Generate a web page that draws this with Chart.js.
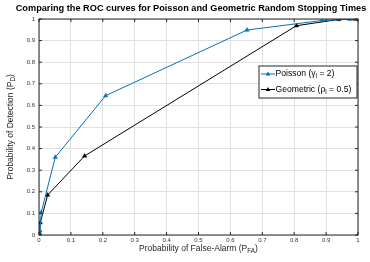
<!DOCTYPE html>
<html>
<head>
<meta charset="utf-8">
<script src="https://cdn.jsdelivr.net/npm/chart.js@4"></script>
<style>
  html, body { margin: 0; padding: 0; background: #fff; }
  #wrap { width: 370px; height: 262px; }
</style>
</head>
<body>
<div id="wrap"><canvas id="roc" width="370" height="262"></canvas></div>
<script>
// values
const poissonPfa = [0, 0.003, 0.007, 0.051, 0.209, 0.652, 0.887, 0.974, 1];
const poissonPd  = [0, 0.02, 0.105, 0.36, 0.645, 0.949, 0.993, 0.999, 1];
const geomPfa    = [0, 0.001, 0.004, 0.027, 0.143, 0.807, 0.94, 0.99, 1];
const geomPd     = [0, 0.01, 0.057, 0.185, 0.366, 0.969, 0.998, 1, 1];
const tickValues = [0, 0.1, 0.2, 0.3, 0.4, 0.5, 0.6, 0.7, 0.8, 0.9, 1];

const FONT = "'Liberation Sans', Arial, Helvetica, sans-serif";
const BLUE = '#0072BD';
const BLACK = '#000000';

function toPoints(xs, ys) {
    return xs.map((x, i) => ({ x: x, y: ys[i] }));
}

// draw text pieces with subscripts, returns total width
function drawRich(ctx, parts, x, y, size) {
    let cx = x;
    parts.forEach(p => {
        const s = p.sub ? size * 0.75 : size;
        ctx.font = s + 'px ' + FONT;
        ctx.fillText(p.t, cx, p.sub ? y + size * 0.3 : y);
        cx += ctx.measureText(p.t).width;
    });
    return cx - x;
}
function measureRich(ctx, parts, size) {
    let w = 0;
    parts.forEach(p => {
        ctx.font = (p.sub ? size * 0.75 : size) + 'px ' + FONT;
        w += ctx.measureText(p.t).width;
    });
    return w;
}

const decorPlugin = {
    id: 'decor',
    afterDraw(chart) {
        const ctx = chart.ctx;
        const a = chart.chartArea;
        const xs = chart.scales.x, ys = chart.scales.y;
        ctx.save();

        // box
        ctx.strokeStyle = '#262626';
        ctx.lineWidth = 1;
        ctx.strokeRect(a.left, a.top, a.right - a.left, a.bottom - a.top);

        // inward ticks on all four sides
        ctx.beginPath();
        tickValues.forEach(v => {
            const px = xs.getPixelForValue(v);
            ctx.moveTo(px, a.bottom); ctx.lineTo(px, a.bottom - 3);
            ctx.moveTo(px, a.top); ctx.lineTo(px, a.top + 3);
            const py = ys.getPixelForValue(v);
            ctx.moveTo(a.left, py); ctx.lineTo(a.left + 3, py);
            ctx.moveTo(a.right, py); ctx.lineTo(a.right - 3, py);
        });
        ctx.stroke();

        // title
        ctx.fillStyle = '#000';
        ctx.font = 'bold 9.2px ' + FONT;
        ctx.textAlign = 'center';
        ctx.textBaseline = 'middle';
        ctx.fillText('Comparing the ROC curves for Poisson and Geometric Random Stopping Times', 191, 8);

        // axis titles
        ctx.textAlign = 'left';
        ctx.fillStyle = '#262626';
        const xt = [{ t: 'Probability of False-Alarm (P' }, { t: 'FA', sub: true }, { t: ')' }];
        const xw = measureRich(ctx, xt, 8.5);
        drawRich(ctx, xt, (a.left + a.right) / 2 - xw / 2, 249, 8.5);

        const yt = [{ t: 'Probability of Detection (P' }, { t: 'D', sub: true }, { t: ')' }];
        const yw = measureRich(ctx, yt, 8.5);
        ctx.save();
        ctx.translate(11, (a.top + a.bottom) / 2);
        ctx.rotate(-Math.PI / 2);
        drawRich(ctx, yt, -yw / 2, 0, 8.5);
        ctx.restore();

        // legend
        const lx = 259, ly = 66, lw = 98, lh = 32;
        ctx.fillStyle = '#fff';
        ctx.fillRect(lx, ly, lw, lh);
        ctx.strokeStyle = '#262626';
        ctx.strokeRect(lx, ly, lw, lh);
        const rows = [
            { color: BLUE, parts: [{ t: 'Poisson (\u03B3' }, { t: 'i', sub: true }, { t: ' = 2)' }] },
            { color: BLACK, parts: [{ t: 'Geometric (\u03C1' }, { t: 'i', sub: true }, { t: ' = 0.5)' }] }
        ];
        rows.forEach((r, i) => {
            const ry = ly + 8 + i * 15.5;
            ctx.strokeStyle = r.color;
            ctx.lineWidth = 1;
            ctx.beginPath();
            ctx.moveTo(lx + 2, ry); ctx.lineTo(lx + 16, ry);
            ctx.stroke();
            ctx.fillStyle = r.color;
            ctx.beginPath();
            ctx.moveTo(lx + 9, ry - 2.5);
            ctx.lineTo(lx + 11.3, ry + 1.5);
            ctx.lineTo(lx + 6.7, ry + 1.5);
            ctx.closePath();
            ctx.fill();
            ctx.fillStyle = '#000';
            ctx.textBaseline = 'middle';
            drawRich(ctx, r.parts, lx + 16.5, ry, 8.6);
        });

        ctx.restore();
    }
};

function fmt(v) {
    return String(Math.round(v * 10) / 10);
}

new Chart(document.getElementById('roc'), {
    type: 'scatter',
    data: {
        datasets: [
            {
                label: 'Poisson',
                data: toPoints(poissonPfa, poissonPd),
                showLine: true,
                borderColor: BLUE,
                backgroundColor: BLUE,
                borderWidth: 1,
                pointStyle: 'triangle',
                pointRadius: 2.5,
                pointBorderWidth: 0.5
            },
            {
                label: 'Geometric',
                data: toPoints(geomPfa, geomPd),
                showLine: true,
                borderColor: BLACK,
                backgroundColor: BLACK,
                borderWidth: 1,
                pointStyle: 'triangle',
                pointRadius: 2.5,
                pointBorderWidth: 0.5
            }
        ]
    },
    options: {
        responsive: false,
        animation: false,
        devicePixelRatio: 1,
        layout: { padding: { top: 19, right: 12, left: 0, bottom: 0 } },
        plugins: {
            legend: { display: false },
            title: { display: false },
            tooltip: { enabled: false }
        },
        scales: {
            x: {
                type: 'linear',
                min: 0, max: 1,
                afterBuildTicks: s => { s.ticks = tickValues.map(v => ({ value: v })); },
                afterFit: s => { s.height = 27; },
                ticks: {
                    callback: v => fmt(v),
                    font: { size: 6, family: FONT },
                    color: '#333',
                    padding: 2,
                    maxRotation: 0
                },
                grid: { color: '#e0e0e0', lineWidth: 1, drawTicks: false },
                border: { display: false }
            },
            y: {
                type: 'linear',
                min: 0, max: 1,
                afterBuildTicks: s => { s.ticks = tickValues.map(v => ({ value: v })); },
                afterFit: s => { s.width = 39; },
                ticks: {
                    callback: v => fmt(v),
                    font: { size: 6, family: FONT },
                    color: '#333',
                    padding: 4
                },
                grid: { color: '#e0e0e0', lineWidth: 1, drawTicks: false },
                border: { display: false }
            }
        }
    },
    plugins: [decorPlugin]
});
</script>
</body>
</html>
